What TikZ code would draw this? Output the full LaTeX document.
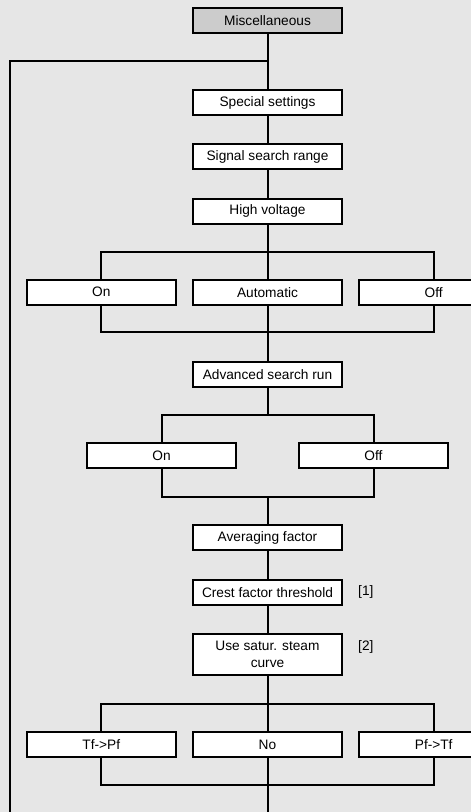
\documentclass[tikz,border=0pt]{standalone}
\usepackage{fontspec}
\setmainfont{Liberation Sans}
\definecolor{bgcol}{RGB}{230,230,230}
\definecolor{headcol}{RGB}{204,204,204}
\tikzset{
  box/.style={draw=black, line width=2pt, fill=white, minimum width=149.6pt, minimum height=25pt,
    inner sep=0pt, align=center, font=\fontsize{13.7}{16.7}\selectfont},
  headbox/.style={box, fill=headcol},
  conn/.style={line width=2pt, black},
  note/.style={anchor=west, inner sep=0pt, font=\fontsize{13.7}{16.7}\selectfont}
}
\begin{document}
\begin{tikzpicture}[x=1pt, y=-1pt]
\fill[bgcol] (0,0) rectangle (471,812);
\useasboundingbox (0,0) rectangle (471,812);
\clip (0,0) rectangle (471,812);

% nodes
\node[headbox] (misc) at (267.5,20.3) {Miscellaneous};
\node[box] (special) at (267.5,102.5) {Special settings};
\node[box] (signal) at (267.5,156.5) {Signal search range};
\node[box] (hv) at (267.5,211) {High voltage};
\node[box] (on1) at (101.3,292.2) {On};
\node[box] (auto) at (267.5,292.2) {Automatic};
\node[box] (off1) at (433.7,292.2) {Off};
\node[box] (adv) at (267.5,374.2) {Advanced search run};
\node[box] (on2) at (161.5,455.8) {On};
\node[box] (off2) at (373.5,455.8) {Off};
\node[box] (avg) at (267.5,537.5) {Averaging factor};
\node[box] (crest) at (267.5,592.2) {Crest factor threshold};
\node[box, minimum height=40.7pt] (use) at (267.5,654.3) {Use satur. steam\\curve};
\node[box] (tf) at (101.3,744.5) {Tf->Pf};
\node[box] (no) at (267.5,744.5) {No};
\node[box] (pf) at (433.7,744.5) {Pf->Tf};
\node[note] (n1) at (358,592.2) {[1]};
\node[note] (n2) at (358,646.5) {[2]};

% coordinates
\coordinate (loop) at (267.5,61);
\coordinate (loopc) at (10,61);
\coordinate (loopb) at (10,830);
\coordinate (b1) at (267.5,252.3);
\coordinate (m1) at (267.5,332.3);
\coordinate (b2) at (267.5,414.7);
\coordinate (m2) at (267.5,496.7);
\coordinate (b3) at (267.5,703.7);
\coordinate (m3) at (267.5,785);
\coordinate (bot) at (267.5,830);

% connectors
\begin{scope}[on background layer/.try]
\end{scope}
\draw[conn] (misc) -- (special);
\draw[conn] (loopb) -- (loopc) -- (loop);
\draw[conn] (special) -- (signal);
\draw[conn] (signal) -- (hv);
\draw[conn] (hv) -- (auto);
\draw[conn] (on1.north) -- (on1.north |- b1) -- (off1.north |- b1) -- (off1.north);
\draw[conn] (on1.south) -- (on1.south |- m1) -- (off1.south |- m1) -- (off1.south);
\draw[conn] (auto) -- (adv);
\draw[conn] (adv) -- (b2);
\draw[conn] (on2.north) -- (on2.north |- b2) -- (off2.north |- b2) -- (off2.north);
\draw[conn] (on2.south) -- (on2.south |- m2) -- (off2.south |- m2) -- (off2.south);
\draw[conn] (m2) -- (avg);
\draw[conn] (avg) -- (crest);
\draw[conn] (crest) -- (use);
\draw[conn] (use) -- (no);
\draw[conn] (tf.north) -- (tf.north |- b3) -- (pf.north |- b3) -- (pf.north);
\draw[conn] (tf.south) -- (tf.south |- m3) -- (pf.south |- m3) -- (pf.south);
\draw[conn] (no) -- (bot);
\end{tikzpicture}
\end{document}
